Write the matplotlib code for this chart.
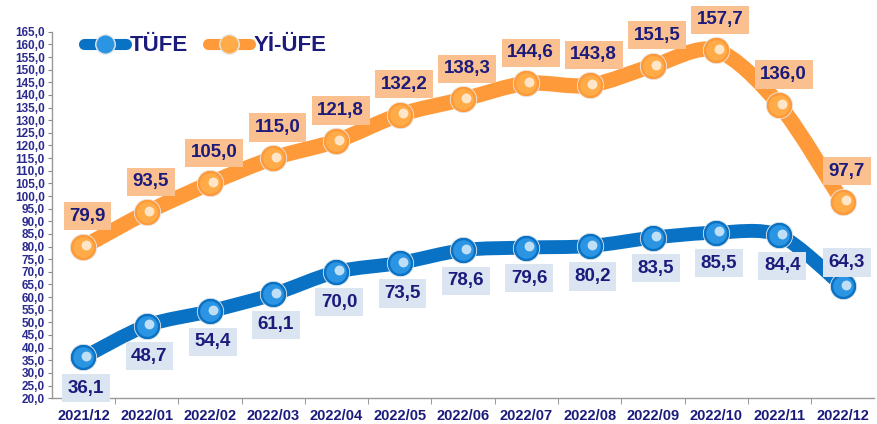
import matplotlib
matplotlib.use("Agg")
import matplotlib.pyplot as plt
from matplotlib.path import Path
from matplotlib.patches import PathPatch
from matplotlib.lines import Line2D
import matplotlib.transforms as mtrans
import numpy as np

plt.rcParams['font.family'] = ['Liberation Sans', 'DejaVu Sans']

months = ["2021/12", "2022/01", "2022/02", "2022/03", "2022/04", "2022/05", "2022/06",
          "2022/07", "2022/08", "2022/09", "2022/10", "2022/11", "2022/12"]
tufe = [36.1, 48.7, 54.4, 61.1, 70.0, 73.5, 78.6, 79.6, 80.2, 83.5, 85.5, 84.4, 64.3]
yiufe = [79.9, 93.5, 105.0, 115.0, 121.8, 132.2, 138.3, 144.6, 143.8, 151.5, 157.7, 136.0, 97.7]
yticks = np.arange(20, 165.1, 5)

NAVY = "#1b1b7c"
BLUE = "#0a72c4"
ORANGE = "#ff9a3a"
BLUE_BOX = "#dbe5f1"
ORANGE_BOX = "#fbc08f"

fig = plt.figure(figsize=(8.77, 4.24), dpi=100)
ax = fig.add_axes([0.059, 0.061, 0.938, 0.864])

x = np.arange(len(months))


def smooth_path(xs, ys, t=0.9):
    pts = np.column_stack([xs, ys]).astype(float)
    verts = [pts[0]]
    codes = [Path.MOVETO]
    n = len(pts)
    for i in range(n - 1):
        p0 = pts[i - 1] if i > 0 else pts[i]
        p1 = pts[i]
        p2 = pts[i + 1]
        p3 = pts[i + 2] if i + 2 < n else pts[i + 1]
        c1 = p1 + (p2 - p0) * t / 6.0
        c2 = p2 - (p3 - p1) * t / 6.0
        verts += [c1, c2, p2]
        codes += [Path.CURVE4] * 3
    return Path(verts, codes)


def draw_series(vals, color, light, lw, z):
    patch = PathPatch(smooth_path(x, vals), facecolor="none", edgecolor=color,
                      lw=lw, capstyle="round", joinstyle="round", zorder=z)
    ax.add_patch(patch)
    # sphere-like markers
    ax.scatter(x, vals, s=360, color=color, edgecolor="#e8e8e8", linewidth=0.6, zorder=z + 1)
    ax.scatter(x, vals, s=220, color=light, zorder=z + 2, linewidth=0)
    off = mtrans.offset_copy(ax.transData, fig=fig, x=2.0, y=1.0, units="points")
    ax.scatter(x, vals, s=50, color="white", alpha=0.7, zorder=z + 3, linewidth=0, transform=off)


draw_series(tufe, BLUE, "#2b95e3", 10.0, 3)
draw_series(yiufe, ORANGE, "#ffac48", 11.0, 6)


def fmt(v):
    return f"{v:.1f}".replace(".", ",")


for i, v in enumerate(tufe):
    dy = 17 if i == len(tufe) - 1 else -22
    dx = 3 if i == len(tufe) - 1 else 2
    ax.annotate(fmt(v), (x[i], v), xytext=(dx, dy), textcoords="offset points",
                ha="center", va="center", fontsize=13.5, fontweight="bold", color=NAVY,
                bbox=dict(boxstyle="square,pad=0.3", fc=BLUE_BOX, ec="none"), zorder=10)

for i, v in enumerate(yiufe):
    ax.annotate(fmt(v), (x[i], v), xytext=(3, 22), textcoords="offset points",
                ha="center", va="center", fontsize=13.5, fontweight="bold", color=NAVY,
                bbox=dict(boxstyle="square,pad=0.3", fc=ORANGE_BOX, ec="none"), zorder=10)

ax.set_xlim(-0.5, len(months) - 0.5)
ax.set_ylim(20, 165)
ax.set_yticks(yticks)
ax.set_yticklabels([fmt(t) for t in yticks], fontsize=8.5, fontweight="bold", color="#2a2a8e")
ax.set_xticks(x)
ax.set_xticklabels(months, fontsize=10.5, fontweight="bold", color=NAVY)
ax.set_xticks(x[:-1] + 0.5, minor=True)
ax.tick_params(axis="x", which="major", length=0, pad=8)
ax.tick_params(axis="x", which="minor", length=4, color="#888888", direction="out")
ax.tick_params(axis="y", length=3, color="#888888", pad=2, direction="out")
for s in ["top", "right"]:
    ax.spines[s].set_visible(False)
for s in ["left", "bottom"]:
    ax.spines[s].set_color("#999999")
    ax.spines[s].set_linewidth(1.0)

handles = [
    Line2D([0], [0], color=BLUE, lw=8, marker="o", markersize=14, markerfacecolor="#2b95e3",
           markeredgecolor="#e8e8e8", solid_capstyle="round"),
    Line2D([0], [0], color=ORANGE, lw=8, marker="o", markersize=14, markerfacecolor="#ffac48",
           markeredgecolor="#e8e8e8", solid_capstyle="round"),
]
leg = ax.legend(handles, ["TÜFE", "Yİ-ÜFE"], loc="upper left", bbox_to_anchor=(0.015, 1.045),
                ncol=2, frameon=False, handlelength=1.9, handletextpad=0.15, columnspacing=0.9,
                prop=dict(size=16, weight="bold"))
for t in leg.get_texts():
    t.set_color(NAVY)

fig.savefig("out.png", dpi=100)
